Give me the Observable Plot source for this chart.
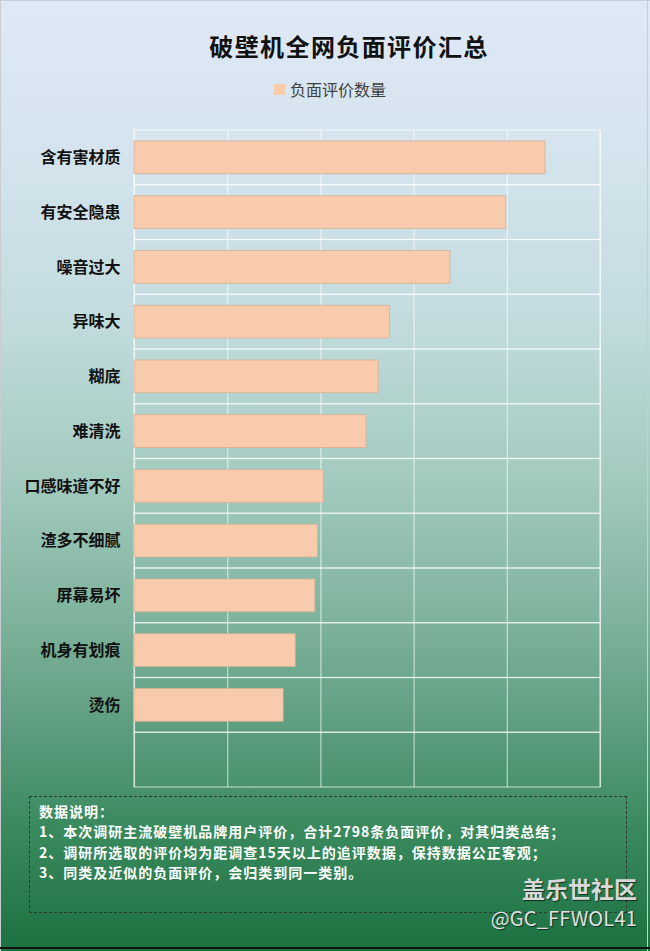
<!DOCTYPE html>
<html>
<head>
<meta charset="utf-8">
<script src="https://cdn.jsdelivr.net/npm/d3@7"></script>
<script src="https://cdn.jsdelivr.net/npm/@observablehq/plot@0.6"></script>
<style>
  html, body { margin: 0; padding: 0; }
  #page {
    position: relative; width: 650px; height: 951px; overflow: hidden;
    font-family: "Noto Sans CJK SC", "Noto Sans", sans-serif;
    background: linear-gradient(180deg, #dfe9f5 0%, #d5e4ee 15%, #c3dcdf 33%, #a4cbc0 50%, #7fb39d 65%, #5c9c7e 77%, #3a8a5e 87%, #1c7140 100%);
  }
  #title {
    position: absolute; left: 0; width: 698px; top: 28px; text-align: center;
    font-size: 24px; font-weight: 700; color: #111; letter-spacing: 1.4px;
  }
  #legend {
    position: absolute; left: 274px; top: 78px; height: 22px; display: flex; align-items: center;
    font-size: 16px; color: #404040;
  }
  #legend .sw { width: 11px; height: 11px; background: #F8CBAD; margin-right: 5px; }
  #chart { position: absolute; left: 0; top: 0; }
  #note {
    position: absolute; left: 29px; top: 796px; width: 587px; height: 111px;
    border: 1px dashed #2a3a30; padding: 4px 0 0 9px; box-sizing: content-box;
    color: #fff; font-size: 14px; font-weight: 700; line-height: 20.4px; letter-spacing: 1px;
  }
  #wm1 {
    position: absolute; right: 13px; top: 871px; font-size: 23px; font-weight: 700; color: #d9d9d9;
    text-shadow: 1px 1px 1px rgba(0,0,0,0.6);
  }
  #wm2 {
    position: absolute; right: 13px; top: 903px; font-size: 20px; color: #e0e0e0;
    text-shadow: 1px 1px 1px rgba(0,0,0,0.6); letter-spacing: 0.2px;
  }
  .edge { position: absolute; background: #c9ccd0; }
</style>
</head>
<body>
<div id="page">
  <div id="title">破壁机全网负面评价汇总</div>
  <div id="legend"><span class="sw"></span><span id="legendText"></span></div>
  <div id="chart"></div>
  <div id="note"></div>
  <div id="wm1">盖乐世社区</div>
  <div id="wm2">@GC_FFWOL41</div>
  <div class="edge" style="left:0;top:0;width:650px;height:1px"></div>
  <div class="edge" style="left:0;top:0;width:1px;height:951px"></div>
  <div class="edge" style="right:2px;top:0;width:1px;height:951px"></div>
  <div style="position:absolute;left:0;top:947px;width:650px;height:2px;background:#111"></div>
</div>
<script>
const seriesName = "负面评价数量";
const categories = ["含有害材质", "有安全隐患", "噪音过大", "异味大", "糊底", "难清洗", "口感味道不好", "渣多不细腻", "屏幕易坏", "机身有划痕", "烫伤"];
const counts = [441, 399, 339, 274, 262, 249, 203, 197, 194, 173, 160];
const blankRow = "__blank__";
const xTicks = [0, 100, 200, 300, 400, 500];
const noteLines = [
  "数据说明：",
  "1、本次调研主流破壁机品牌用户评价，合计2798条负面评价，对其归类总结；",
  "2、调研所选取的评价均为距调查15天以上的追评数据，保持数据公正客观；",
  "3、同类及近似的负面评价，会归类到同一类别。"
];

document.getElementById("legendText").textContent = seriesName;
document.getElementById("note").innerHTML = noteLines.map(s => `<div>${s}</div>`).join("");

const data = categories.map((c, i) => ({category: c, value: counts[i]}));
const rows = [...categories, blankRow];

const chart = Plot.plot({
  width: 650,
  height: 800,
  marginTop: 130,
  marginBottom: 13,
  marginLeft: 134,
  marginRight: 50,
  style: {background: "transparent", overflow: "visible"},
  x: {domain: [0, 500], axis: null},
  y: {domain: rows, padding: 0, round: false, axis: null, label: null},
  marks: [
    Plot.barX(rows, {x1: 0, x2: 500, y: d => d, fill: "none", stroke: "#ffffff", strokeOpacity: 0.6, strokeWidth: 1.2}),
    Plot.ruleX(xTicks, {stroke: "#ffffff", strokeOpacity: 0.6, strokeWidth: 1.2}),
    Plot.barX(data, {x: "value", y: "category", fill: "#F8CBAD", stroke: "#d8b092", strokeWidth: 0.8, insetTop: 11, insetBottom: 11}),
    Plot.axisY({ticks: categories, label: null, tickSize: 0, tickPadding: 14, fontSize: 16, fontWeight: 700, fill: "#111", fontFamily: "Noto Sans CJK SC"})
  ]
});
document.getElementById("chart").appendChild(chart);
</script>
</body>
</html>
